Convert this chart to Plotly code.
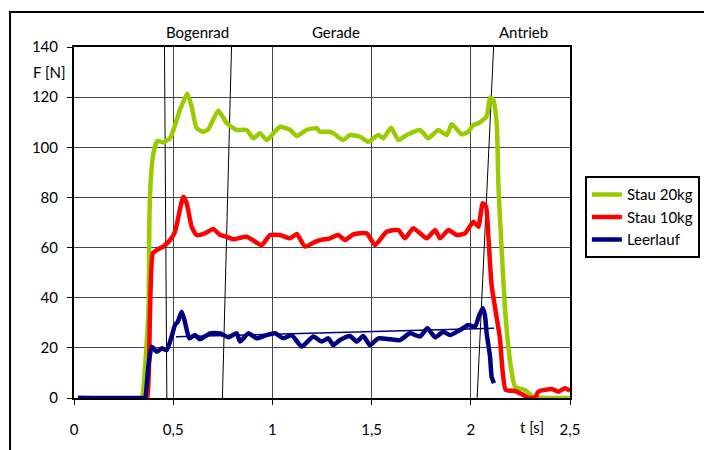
import plotly.graph_objects as go

# ---- data ----
t_stau20 = [0.02, 0.34, 0.346, 0.375, 0.380, 0.387, 0.400, 0.420, 0.450, 0.484,
            0.534, 0.571, 0.593, 0.618, 0.652, 0.677, 0.727, 0.770, 0.820, 0.870,
            0.904, 0.937, 0.971, 1.005, 1.038, 1.089, 1.123, 1.173, 1.223, 1.240,
            1.290, 1.307, 1.357, 1.391, 1.442, 1.483, 1.534, 1.559, 1.598, 1.635,
            1.677, 1.744, 1.786, 1.836, 1.879, 1.904, 1.954, 1.987, 2.013, 2.038,
            2.080, 2.097, 2.113, 2.131, 2.139, 2.156, 2.176, 2.203, 2.223, 2.273,
            2.315, 2.357, 2.5]
f_stau20 = [0, 0, 1, 33.8, 71, 87, 97.6, 102.5, 102, 103.6,
            114.9, 121.5, 116.2, 107.6, 106.2, 107.2, 114.6, 109.6, 106.9, 106.9,
            103.6, 105.6, 102.9, 105.6, 108.2, 107, 104.5, 107, 107.6, 106.2,
            106.2, 105.6, 102.9, 104.9, 104.2, 102.2, 104.9, 103.6, 107.8, 102.9,
            104.9, 106.9, 103.6, 106.9, 104.9, 109.2, 105.2, 106.2, 108.9, 109.6,
            112.2, 119.8, 118.9, 108.9, 85, 58.4, 31.8, 11.8, 4.5, 3.2,
            0.5, 0.1, 0]

t_stau10 = [0.02, 0.36, 0.370, 0.383, 0.397, 0.417, 0.450, 0.484, 0.509, 0.551,
            0.568, 0.593, 0.618, 0.660, 0.702, 0.736, 0.770, 0.803, 0.870, 0.946,
            0.988, 1.038, 1.089, 1.123, 1.164, 1.215, 1.240, 1.290, 1.332, 1.366,
            1.408, 1.475, 1.517, 1.576, 1.635, 1.668, 1.710, 1.778, 1.820, 1.845,
            1.887, 1.929, 1.971, 2.013, 2.038, 2.060, 2.077, 2.088, 2.105, 2.131,
            2.147, 2.159, 2.176, 2.223, 2.265, 2.290, 2.324, 2.340, 2.408, 2.441,
            2.475, 2.500]
f_stau10 = [0, 0, 0.5, 33.9, 57.7, 59, 60.4, 63, 66.3, 80.3,
            77.7, 68.3, 65, 65.7, 67.4, 65, 64.3, 63.3, 64.3, 61,
            65, 65, 63.7, 65.4, 60.4, 62.3, 63, 63.7, 65, 63,
            65.3, 65.7, 61, 66.3, 67, 63.7, 67.7, 63.7, 67, 63.7,
            67, 65, 65.7, 70.3, 68.3, 77.7, 76.3, 65, 45, 31.8,
            23.8, 11.8, 3.2, 2.8, 1.2, 0.1, 0.1, 2.5, 3.6, 2.5,
            3.9, 2.8]

t_leerlauf = [0.02, 0.35, 0.358, 0.375, 0.392, 0.417, 0.442, 0.467, 0.492, 0.509,
              0.523, 0.543, 0.559, 0.581, 0.610, 0.635, 0.685, 0.736, 0.778, 0.820,
              0.837, 0.879, 0.921, 0.971, 1.013, 1.055, 1.097, 1.148, 1.206, 1.248,
              1.282, 1.307, 1.341, 1.391, 1.425, 1.458, 1.492, 1.534, 1.593, 1.643,
              1.694, 1.744, 1.781, 1.820, 1.861, 1.895, 1.946, 1.987, 2.021, 2.043,
              2.060, 2.071, 2.080, 2.097, 2.105, 2.117]
f_leerlauf = [0, 0, 0, 12.5, 20.5, 18.5, 19.8, 19.1, 24.5, 29.1,
              30.4, 34.4, 30.4, 23.8, 25.1, 23.4, 25.8, 25.8, 24.2, 25.8,
              22.5, 25.8, 23.8, 25.1, 25.8, 23.8, 25.1, 20.5, 24.5, 22.5,
              23.8, 21.1, 23.1, 24.7, 22.5, 24.7, 21.1, 23.8, 23.4, 23.1,
              25.8, 24.5, 27.8, 24.2, 26.4, 25.1, 27.1, 29.1, 28.4, 33.1,
              35.8, 33.1, 25.8, 16.5, 8.5, 5.9]

t_trend = [0.514, 2.117]
f_trend = [24.4, 27.8]

# section boundary lines: t at F=0 and t at F=140
boundary_t_bottom = [0.468, 0.748, 2.032]
boundary_t_top = [0.456, 0.794, 2.115]
boundary_f = [0, 140]

section_names = ["Bogenrad", "Gerade", "Antrieb"]
section_t = [0.623, 1.323, 2.268]

x_tickvals = [0, 0.5, 1, 1.5, 2, 2.5]
x_ticktext = ["0", "0,5", "1", "1,5", "2", "2,5"]
y_tickvals = [0, 20, 40, 60, 80, 100, 120, 140]

series = [
    ("Stau 20kg", t_stau20, f_stau20, "#99CC00"),
    ("Stau 10kg", t_stau10, f_stau10, "#FF0000"),
    ("Leerlauf", t_leerlauf, f_leerlauf, "#000080"),
]

FONT = "Lato"

fig = go.Figure()

for tb, tt in zip(boundary_t_bottom, boundary_t_top):
    fig.add_trace(go.Scatter(x=[tb, tt], y=boundary_f, mode="lines",
                             line=dict(color="black", width=1),
                             showlegend=False, hoverinfo="skip"))

for name, t, f, col in series:
    assert len(t) == len(f)
    fig.add_trace(go.Scatter(x=t, y=f, mode="lines", name=name,
                             line=dict(color=col, width=4.5, shape="spline",
                                       smoothing=0.5)))

fig.add_trace(go.Scatter(x=t_trend, y=f_trend, mode="lines",
                         line=dict(color="#000080", width=1.5),
                         showlegend=False, hoverinfo="skip"))

for name, t in zip(section_names, section_t):
    fig.add_annotation(x=t, y=1, xref="x", yref="paper", text=name,
                       showarrow=False, yanchor="bottom", yshift=4,
                       font=dict(family=FONT, size=15, color="black"))

fig.add_annotation(x=0, y=130, xref="paper", yref="y", text="F [N]",
                   showarrow=False, xanchor="right", xshift=-6,
                   font=dict(family=FONT, size=15, color="black"))
fig.add_annotation(x=2.31, y=0, xref="x", yref="paper", text="t [s]",
                   showarrow=False, yanchor="top", yshift=-18,
                   font=dict(family=FONT, size=15, color="black"))

# outer chart frame
fig.add_shape(type="rect", xref="paper", yref="paper",
              x0=-0.129, x1=1.6, y0=-0.6, y1=1.0997,
              line=dict(color="black", width=2), layer="below")

fig.update_layout(
    width=704, height=450,
    margin=dict(l=74, r=134, t=47, b=52, autoexpand=False),
    paper_bgcolor="white", plot_bgcolor="white",
    font=dict(family=FONT, size=15, color="black"),
    legend=dict(x=1.03, y=0.632, xanchor="left", yanchor="top",
                bordercolor="black", borderwidth=2, bgcolor="white",
                font=dict(family=FONT, size=15, color="black"),
                itemwidth=30, tracegroupgap=0),
    showlegend=True,
)
fig.update_xaxes(range=[0, 2.5], tickvals=x_tickvals, ticktext=x_ticktext,
                 showgrid=True, gridcolor="#444444", gridwidth=1,
                 showline=True, linecolor="black", linewidth=2, mirror=True,
                 ticks="outside", ticklen=5, tickcolor="black",
                 ticklabelstandoff=12, zeroline=False, automargin=False)
fig.update_yaxes(range=[0, 140], tickvals=y_tickvals,
                 showgrid=True, gridcolor="#444444", gridwidth=1,
                 showline=True, linecolor="black", linewidth=2, mirror=True,
                 ticks="outside", ticklen=5, tickcolor="black",
                 ticklabelstandoff=6, zeroline=False, automargin=False)

fig.write_html("out.html", config={"displayModeBar": False},
               post_script="document.body.style.margin='0';"
                           "document.body.style.overflow='hidden';")
